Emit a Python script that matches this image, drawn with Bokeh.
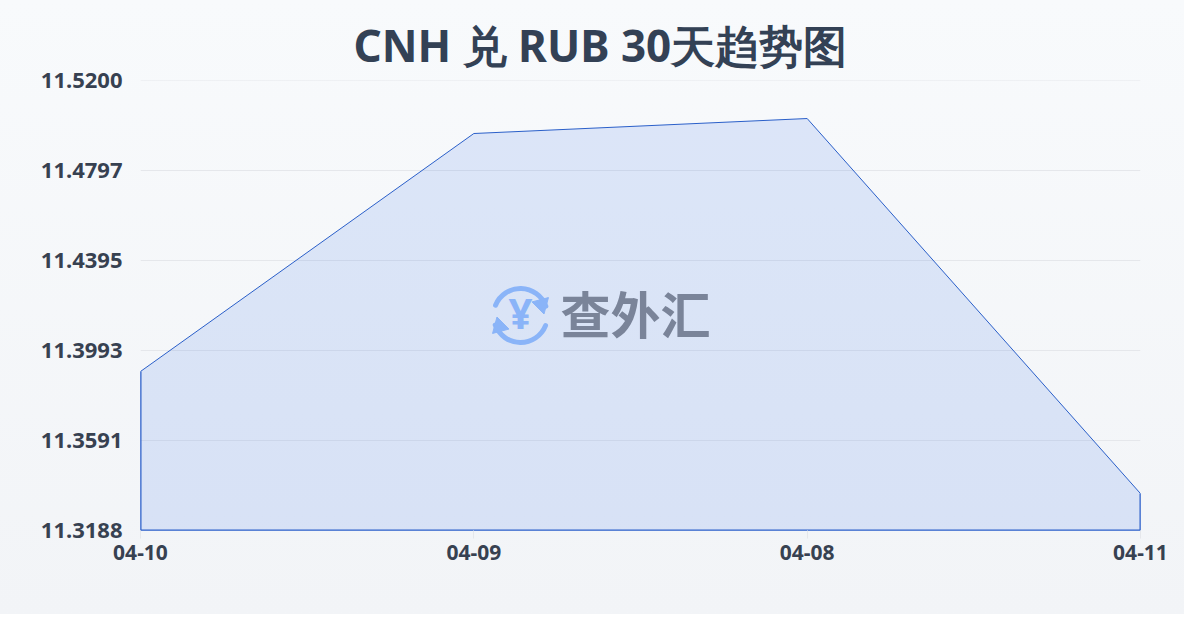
from bokeh.plotting import figure
from bokeh.embed import file_html
from bokeh.resources import INLINE
from bokeh.models import FixedTicker, NumeralTickFormatter, Range1d, Title, Span, InlineStyleSheet
from bokeh.core.properties import value

dates = ["04-10", "04-09", "04-08", "04-11"]
rates = [11.3899, 11.4963, 11.5030, 11.3353]
y_ticks = [11.5200, 11.4797, 11.4395, 11.3993, 11.3591, 11.3188]
title_text = "CNH 兑 RUB 30天趋势图"
brand = "查外汇"

W, H = 1184, 614
L, T, R, B = 140, 80, 44, 84
ymin, ymax = y_ticks[-1], y_ticks[0]
xs = list(range(len(dates)))

p = figure(width=W, height=H, output_backend="svg", toolbar_location=None,
           x_range=Range1d(xs[0], xs[-1]), y_range=Range1d(ymin, ymax),
           min_border_left=L, min_border_right=R, min_border_top=T, min_border_bottom=B,
           border_fill_alpha=0, background_fill_alpha=0, outline_line_color=None)
p.stylesheets = [InlineStyleSheet(css=":host{background:linear-gradient(180deg,#f8fafc 0%,#f2f4f7 100%)}")]

p.title = Title(text=title_text, align="left", offset=213, standoff=11,
                text_font="Noto Sans", text_font_style="bold", text_font_size="44px",
                text_color="#334155")

p.xgrid.visible = False
p.ygrid.grid_line_color = "#e5e7eb"
p.add_layout(Span(location=ymax, dimension="width", line_color="#e5e7eb", line_width=1, level="underlay"))
p.xaxis.ticker = FixedTicker(ticks=xs)
p.xaxis.major_label_overrides = dict(zip(xs, dates))
p.xaxis.axis_line_color = None
p.xaxis.major_tick_line_color = "#e5e7eb"
p.xaxis.major_tick_out = 8
p.xaxis.major_tick_in = 0
p.xaxis.minor_tick_line_color = None
p.xaxis.major_label_standoff = 6
p.xaxis.major_label_text_font = "Noto Sans"
p.xaxis.major_label_text_font_style = "bold"
p.xaxis.major_label_text_font_size = "21px"
p.xaxis.major_label_text_color = "#374151"

p.yaxis.ticker = FixedTicker(ticks=y_ticks)
p.yaxis.formatter = NumeralTickFormatter(format="0.0000")
p.yaxis.axis_line_color = None
p.yaxis.major_tick_line_color = None
p.yaxis.minor_tick_line_color = None
p.yaxis.major_label_standoff = 12
p.yaxis.major_label_text_font = "Noto Sans"
p.yaxis.major_label_text_font_style = "bold"
p.yaxis.major_label_text_font_size = "22px"
p.yaxis.major_label_text_color = "#374151"

LINE = "#2a5fc9"
p.patch(xs + [xs[-1], xs[0]], rates + [ymin, ymin],
        fill_color="#2563eb", fill_alpha=0.13, line_color=LINE, line_width=1)
# The frame clips half of a line on its edge, so the edge strokes are doubled.
p.line([xs[0], xs[0], xs[-1], xs[-1]], [rates[0], ymin, ymin, rates[-1]],
       line_color=LINE, line_width=2)

def px_x(px):
    return xs[0] + (px - 140) / 1000 * (xs[-1] - xs[0])
def px_y(py):
    return ymax - (py - 80) / 450 * (ymax - ymin)

blue = "#8ab4f8"
cx, cy = px_x(520), px_y(315)
p.arc([cx], [cy], radius=27, radius_units="screen", start_angle=0.35, end_angle=2.75,
      line_color=blue, line_width=5, line_cap="round")
p.arc([cx], [cy], radius=27, radius_units="screen", start_angle=3.5, end_angle=5.9,
      line_color=blue, line_width=5, line_cap="round")
p.scatter([px_x(541)], [px_y(304)], marker="triangle", size=17, angle=3.4, color=blue)
p.scatter([px_x(499)], [px_y(326)], marker="triangle", size=17, angle=0.26, color=blue)
p.text([cx], [px_y(312)], text=["¥"], text_align="center", text_baseline="middle",
       text_font=value("Noto Sans"), text_font_style="bold", text_font_size="42px", text_color=blue)
p.text([px_x(560)], [px_y(311)], text=[brand], text_align="left", text_baseline="middle",
       text_font=value("Noto Sans CJK SC"), text_font_style="bold", text_font_size="50px",
       text_color="#7a8499")

open("out.html", "w").write(file_html(p, INLINE))
